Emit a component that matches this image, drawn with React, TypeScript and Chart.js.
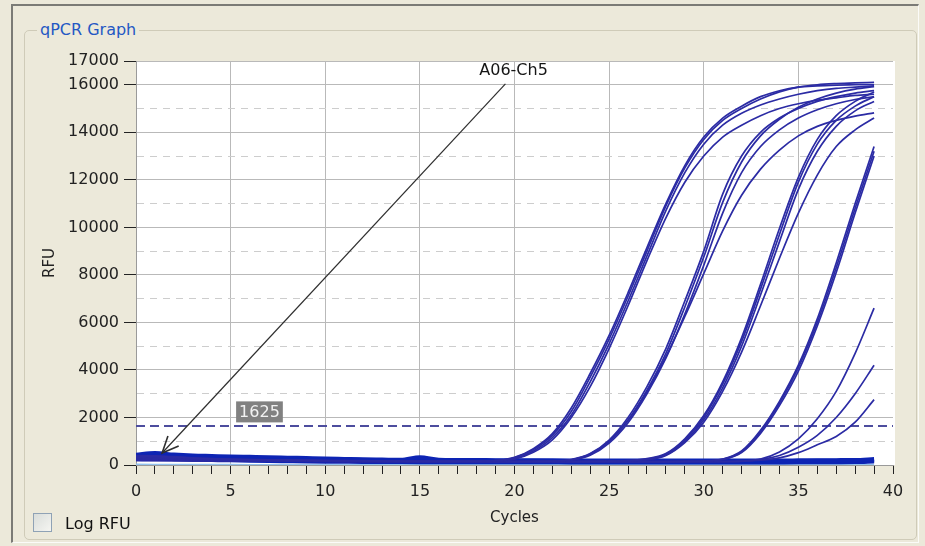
import React, { useEffect, useRef } from 'react';
import { Chart, registerables } from 'chart.js';

Chart.register(...registerables);

// ---------- data ----------
const CYCLES = [0, 1, 2, 3, 4, 5, 6, 7, 8, 9, 10, 11, 12, 13, 14, 15, 16, 17, 18, 19, 20, 21, 22, 23, 24, 25, 26, 27, 28, 29, 30, 31, 32, 33, 34, 35, 36, 37, 38, 39];
const X_TICKS = [0, 1, 2, 3, 4, 5, 6, 7, 8, 9, 10, 11, 12, 13, 14, 15, 16, 17, 18, 19, 20, 21, 22, 23, 24, 25, 26, 27, 28, 29, 30, 31, 32, 33, 34, 35, 36, 37, 38, 39, 40];
const X_LABELED = [0, 5, 10, 15, 20, 25, 30, 35, 40];
const X_GRID = [5, 10, 15, 20, 25, 30, 35];
const Y_TICKS = [0, 1000, 2000, 3000, 4000, 5000, 6000, 7000, 8000, 9000, 10000, 11000, 12000, 13000, 14000, 15000, 16000, 17000];
const Y_LABELED = [0, 2000, 4000, 6000, 8000, 10000, 12000, 14000, 16000, 17000];
const THRESHOLD = 1625;
const THRESH_LABEL_CYCLE = 5.29;
const ANNOT_TEXT = 'A06-Ch5';
const ANNOT_LABEL_AT = [19.95, 16580];
const ANNOT_FROM = [19.52, 16035];
const ANNOT_TIP = [1.38, 505];

// positive wells, dilution group A
const A1 = [380, 360, 330, 290, 260, 240, 225, 215, 205, 195, 185, 180, 175, 170, 165, 160, 160, 160, 165, 180, 300, 650, 1250, 2250, 3700, 5300, 7100, 9000, 10900, 12500, 13700, 14500, 15000, 15400, 15700, 15900, 16000, 16050, 16080, 16100];
const A2 = [350, 340, 310, 280, 250, 230, 215, 205, 195, 190, 180, 175, 170, 165, 160, 158, 155, 155, 160, 175, 270, 590, 1150, 2100, 3500, 5100, 6900, 8800, 10700, 12300, 13500, 14300, 14800, 15150, 15400, 15600, 15750, 15850, 15900, 15950];
const A3 = [320, 310, 290, 260, 235, 215, 205, 195, 185, 180, 175, 170, 165, 160, 158, 155, 150, 150, 155, 165, 250, 540, 1060, 2000, 3300, 4900, 6700, 8600, 10400, 11900, 13000, 13800, 14300, 14700, 15000, 15200, 15350, 15450, 15550, 15600];
const A4 = [400, 390, 350, 300, 270, 245, 230, 220, 210, 200, 190, 185, 180, 175, 170, 165, 165, 165, 170, 185, 320, 690, 1320, 2400, 3850, 5450, 7250, 9150, 11000, 12600, 13800, 14600, 15100, 15500, 15750, 15900, 15950, 15980, 16000, 16020];
// group B
const B1 = [300, 290, 270, 245, 225, 210, 200, 190, 180, 175, 170, 165, 160, 155, 150, 150, 148, 145, 145, 145, 145, 150, 160, 230, 480, 1050, 2000, 3300, 4900, 6900, 9000, 11400, 13000, 14000, 14600, 15000, 15300, 15500, 15650, 15750];
const B2 = [320, 300, 280, 250, 230, 215, 200, 190, 182, 176, 170, 165, 160, 156, 152, 150, 148, 146, 145, 145, 145, 148, 155, 210, 440, 980, 1880, 3150, 4700, 6650, 8750, 11050, 12750, 13850, 14550, 15050, 15400, 15650, 15820, 15920];
const B3 = [280, 270, 255, 235, 220, 205, 195, 185, 178, 172, 166, 160, 156, 152, 150, 148, 146, 144, 143, 143, 143, 145, 150, 200, 410, 920, 1780, 3000, 4500, 6350, 8400, 10600, 12300, 13400, 14100, 14600, 14950, 15200, 15380, 15500];
const B4 = [300, 285, 265, 240, 222, 208, 198, 188, 180, 174, 168, 163, 158, 154, 150, 148, 146, 145, 145, 145, 146, 150, 158, 220, 460, 1000, 1880, 3080, 4550, 6250, 8050, 9850, 11350, 12450, 13250, 13850, 14250, 14500, 14680, 14820];
// group C
const C1 = [260, 250, 235, 220, 205, 195, 188, 180, 175, 170, 165, 160, 156, 152, 150, 148, 146, 145, 144, 143, 142, 142, 143, 145, 150, 160, 180, 250, 450, 1050, 2000, 3400, 5200, 7400, 9700, 11900, 13500, 14500, 15100, 15500];
const C2 = [240, 235, 225, 210, 198, 190, 182, 176, 170, 166, 162, 158, 154, 150, 148, 146, 144, 143, 142, 141, 140, 140, 141, 143, 147, 155, 170, 230, 420, 980, 1900, 3250, 5000, 7150, 9400, 11600, 13200, 14250, 14900, 15300];
const C3 = [250, 240, 228, 214, 200, 190, 183, 176, 170, 165, 160, 156, 152, 149, 147, 145, 143, 142, 141, 140, 140, 140, 141, 143, 146, 152, 165, 220, 400, 940, 1800, 3100, 4750, 6700, 8700, 10600, 12200, 13400, 14100, 14600];
const C4 = [270, 258, 240, 224, 210, 198, 190, 183, 177, 171, 166, 161, 157, 153, 150, 148, 146, 145, 144, 143, 143, 143, 144, 146, 151, 162, 185, 265, 480, 1100, 2080, 3500, 5350, 7600, 9950, 12100, 13700, 14700, 15300, 15700];
// group D
const D1 = [230, 225, 215, 205, 195, 188, 182, 176, 170, 166, 162, 158, 155, 152, 150, 148, 146, 145, 144, 143, 142, 141, 140, 140, 140, 140, 141, 142, 145, 150, 165, 240, 560, 1400, 2600, 4100, 6000, 8300, 10800, 13200];
const D2 = [220, 215, 208, 200, 192, 185, 179, 173, 168, 164, 160, 156, 153, 150, 148, 146, 145, 144, 143, 142, 141, 140, 139, 139, 139, 139, 140, 141, 143, 148, 160, 225, 520, 1330, 2500, 3950, 5850, 8100, 10600, 13000];
const D3 = [240, 232, 222, 210, 200, 192, 185, 179, 173, 168, 164, 160, 157, 154, 151, 149, 147, 146, 145, 144, 143, 142, 141, 141, 141, 141, 142, 143, 147, 152, 170, 250, 590, 1460, 2680, 4200, 6150, 8500, 11000, 13400];
// group E (latest)
const E1 = [210, 205, 198, 190, 183, 177, 172, 167, 163, 160, 157, 154, 152, 150, 148, 146, 145, 144, 143, 142, 141, 140, 140, 140, 140, 140, 140, 140, 141, 142, 143, 148, 165, 250, 550, 1100, 1950, 3100, 4700, 6600];
const E2 = [200, 196, 190, 184, 178, 173, 168, 164, 160, 157, 154, 152, 150, 148, 146, 145, 144, 143, 142, 141, 140, 140, 139, 139, 139, 139, 139, 139, 140, 141, 142, 146, 160, 230, 400, 750, 1250, 2000, 3000, 4200];
const E3 = [190, 186, 181, 176, 171, 167, 163, 160, 157, 154, 152, 150, 148, 146, 145, 144, 143, 142, 141, 140, 139, 139, 138, 138, 138, 138, 138, 138, 139, 140, 141, 144, 155, 200, 300, 520, 850, 1200, 1800, 2750];
// negative wells (baseline band)
const N1 = [430, 500, 440, 400, 380, 360, 345, 330, 310, 290, 270, 255, 240, 230, 220, 330, 225, 215, 210, 205, 200, 198, 196, 194, 192, 190, 190, 190, 190, 190, 190, 190, 190, 190, 190, 195, 200, 205, 210, 250];
const N2 = [400, 420, 390, 360, 340, 320, 300, 285, 270, 255, 240, 225, 215, 205, 198, 192, 188, 184, 180, 178, 176, 174, 172, 170, 170, 170, 170, 170, 170, 170, 170, 170, 170, 170, 170, 172, 175, 178, 182, 210];
const N3 = [320, 340, 320, 300, 280, 260, 245, 230, 215, 200, 190, 180, 172, 166, 160, 156, 152, 150, 148, 146, 145, 144, 143, 142, 141, 140, 140, 140, 140, 140, 140, 140, 140, 140, 140, 142, 145, 148, 152, 180];
const N4 = [240, 250, 240, 225, 210, 195, 182, 170, 160, 150, 142, 136, 130, 126, 122, 120, 118, 116, 115, 114, 113, 112, 111, 110, 110, 110, 110, 110, 110, 110, 110, 110, 110, 110, 110, 112, 115, 118, 122, 150];
const LB = [20, 15, 10, 10, 8, 6, 5, 5, 5, 5, 5, 5, 5, 5, 5, 5, 5, 5, 5, 5, 5, 5, 5, 5, 5, 5, 5, 5, 5, 5, 5, 5, 5, 5, 5, 5, 5, 5, 5, 5];

const POSITIVE = [A1, A2, A3, A4, B1, B2, B3, B4, C1, C2, C3, C4, D1, D2, D3, E1, E2, E3];
const NEGATIVE = [N1, N2, N3, N4];

// ---------- styles ----------
const BG = '#ECE9DA';
const FONT = '"DejaVu Sans", Verdana, sans-serif';
const CURVE_COLOR = '#2b2ba4';
const NEG_COLOR = '#0d24b4';
const LB_COLOR = '#92c2ee';
const GRID = '#b9b9b9';
const MINOR = '#cdcdcd';
const THRESH_COLOR = '#4d4d9e';

const toXY = (s: number[]) => CYCLES.map((c, i) => ({ x: c, y: s[i] }));

const overlayPlugin = {
  id: 'qpcrOverlay',
  beforeDraw(chart: any) {
    const { ctx, chartArea: a } = chart;
    ctx.save();
    ctx.fillStyle = '#ffffff';
    ctx.fillRect(a.left, a.top, a.right - a.left + 2, a.bottom - a.top);
    ctx.restore();
  },
  beforeDatasetsDraw(chart: any) {
    const { ctx, chartArea: a, scales } = chart;
    const y = Math.round(scales.y.getPixelForValue(THRESHOLD));
    ctx.save();
    ctx.strokeStyle = THRESH_COLOR;
    ctx.lineWidth = 2;
    ctx.setLineDash([9, 5]);
    ctx.beginPath();
    ctx.moveTo(a.left, y);
    ctx.lineTo(a.right, y);
    ctx.stroke();
    ctx.restore();
  },
  afterDatasetsDraw(chart: any) {
    const { ctx, scales } = chart;
    const xs = scales.x;
    const ys = scales.y;
    ctx.save();
    // threshold label
    const yT = ys.getPixelForValue(THRESHOLD);
    ctx.font = '16px ' + FONT;
    const text = String(THRESHOLD);
    const tw = ctx.measureText(text).width;
    const bw = tw + 6;
    const bh = 21;
    const bx = xs.getPixelForValue(THRESH_LABEL_CYCLE);
    const by = yT - 4 - bh;
    ctx.fillStyle = '#818181';
    ctx.fillRect(bx, by, bw, bh);
    ctx.fillStyle = '#f2f2f2';
    ctx.textAlign = 'center';
    ctx.textBaseline = 'middle';
    ctx.fillText(text, bx + bw / 2, by + bh / 2 + 1);

    // annotation arrow
    const x1 = xs.getPixelForValue(ANNOT_FROM[0]);
    const y1 = ys.getPixelForValue(ANNOT_FROM[1]);
    const x2 = xs.getPixelForValue(ANNOT_TIP[0]);
    const y2 = ys.getPixelForValue(ANNOT_TIP[1]);
    ctx.strokeStyle = '#2e2e2e';
    ctx.lineWidth = 1.2;
    ctx.beginPath();
    ctx.moveTo(x1, y1);
    ctx.lineTo(x2, y2);
    ctx.stroke();
    const ang = Math.atan2(y1 - y2, x1 - x2);
    const len = 18;
    const spread = 0.42;
    ctx.beginPath();
    ctx.moveTo(x2 + len * Math.cos(ang - spread), y2 + len * Math.sin(ang - spread));
    ctx.lineTo(x2, y2);
    ctx.lineTo(x2 + len * Math.cos(ang + spread), y2 + len * Math.sin(ang + spread));
    ctx.lineWidth = 1.6;
    ctx.stroke();

    ctx.fillStyle = '#151515';
    ctx.font = '16px ' + FONT;
    ctx.fillText(ANNOT_TEXT, xs.getPixelForValue(ANNOT_LABEL_AT[0]), ys.getPixelForValue(ANNOT_LABEL_AT[1]));
    ctx.restore();
  },
};

export default function App() {
  const ref = useRef<HTMLCanvasElement>(null);

  useEffect(() => {
    const canvas = ref.current;
    if (!canvas) return;
    const datasets: any[] = [
      ...POSITIVE.map((s) => ({
        data: toXY(s),
        borderColor: CURVE_COLOR,
        borderWidth: 1.7,
        pointRadius: 0,
        fill: false,
        cubicInterpolationMode: 'monotone',
      })),
      ...NEGATIVE.map((s) => ({
        data: toXY(s),
        borderColor: NEG_COLOR,
        borderWidth: 4,
        pointRadius: 0,
        fill: false,
        cubicInterpolationMode: 'monotone',
      })),
      {
        data: toXY(LB),
        borderColor: LB_COLOR,
        borderWidth: 2,
        pointRadius: 0,
        fill: false,
      },
    ];

    const chart = new Chart(canvas, {
      type: 'line',
      data: { datasets },
      plugins: [overlayPlugin],
      options: {
        responsive: false,
        animation: false,
        events: [],
        layout: { padding: { left: 30, top: 61, right: 32, bottom: 15 } },
        plugins: { legend: { display: false }, tooltip: { enabled: false } },
        scales: {
          x: {
            type: 'linear',
            min: 0,
            max: 40,
            afterBuildTicks: (s: any) => {
              s.ticks = X_TICKS.map((v) => ({ value: v }));
            },
            afterFit: (s: any) => {
              s.height = 66;
            },
            ticks: {
              autoSkip: false,
              maxRotation: 0,
              minRotation: 0,
              padding: 8,
              color: '#222',
              font: { family: FONT, size: 16 },
              callback: (v: any) => (X_LABELED.includes(Number(v)) ? String(v) : ''),
            },
            grid: {
              color: (c: any) => (c.tick && X_GRID.includes(c.tick.value) ? GRID : 'rgba(0,0,0,0)'),
              tickColor: '#222',
              tickLength: 9,
              tickWidth: 1,
              lineWidth: 1,
            },
            border: { display: true, color: '#9a9a9a' },
            title: {
              display: true,
              text: 'Cycles',
              color: '#222',
              font: { family: FONT, size: 15 },
              padding: { top: 4, bottom: 4 },
            },
          },
          y: {
            type: 'linear',
            min: 0,
            max: 17000,
            afterBuildTicks: (s: any) => {
              s.ticks = Y_TICKS.map((v) => ({ value: v }));
            },
            afterFit: (s: any) => {
              s.width = 106;
            },
            ticks: {
              autoSkip: false,
              padding: 5,
              color: '#222',
              font: { family: FONT, size: 16 },
              callback: (v: any) => (Y_LABELED.includes(Number(v)) ? String(v) : ''),
            },
            grid: {
              color: (c: any) => (!c.tick || Y_LABELED.includes(c.tick.value) ? GRID : MINOR),
              tickColor: (c: any) => (c.tick && Y_LABELED.includes(c.tick.value) ? '#222' : 'rgba(0,0,0,0)'),
              tickLength: 12,
              lineWidth: 1,
            },
            border: {
              display: true,
              color: '#9a9a9a',
              dash: (c: any) => (c.tick && !Y_LABELED.includes(c.tick.value) ? [7, 6] : []),
            },
            title: {
              display: true,
              text: 'RFU',
              color: '#222',
              font: { family: FONT, size: 15 },
              padding: { top: 11, bottom: 4 },
            },
          },
        },
      } as any,
    });
    return () => chart.destroy();
  }, []);

  return (
    <div
      style={{
        position: 'fixed',
        left: 0,
        top: 0,
        width: 925,
        height: 546,
        background: BG,
        overflow: 'hidden',
        fontFamily: FONT,
      }}
    >
      <div
        style={{
          position: 'absolute',
          left: 11,
          top: 4,
          width: 925 - 11 - 6,
          height: 546 - 4 - 3,
          borderTop: '2px solid #7b7b76',
          borderLeft: '2px solid #7b7b76',
          borderRight: '1px solid #fbfbf8',
          borderBottom: '1px solid #fbfbf8',
          boxSizing: 'border-box',
        }}
      />
      <div
        style={{
          position: 'absolute',
          left: 24,
          top: 30,
          width: 893,
          height: 510,
          border: '1px solid #cfcbb8',
          borderRadius: 5,
          boxSizing: 'border-box',
        }}
      />
      <div
        style={{
          position: 'absolute',
          left: 37,
          top: 20,
          padding: '0 3px',
          background: BG,
          color: '#2458c4',
          fontSize: 16,
          lineHeight: '20px',
          whiteSpace: 'nowrap',
        }}
      >
        qPCR Graph
      </div>
      <canvas
        ref={ref}
        width={925}
        height={546}
        style={{ position: 'absolute', left: 0, top: 0, width: 925, height: 546 }}
      />
      <div
        style={{
          position: 'absolute',
          left: 33,
          top: 513,
          width: 19,
          height: 19,
          border: '1px solid #8fa2b5',
          background: 'linear-gradient(135deg, #d9ddda, #f5f5f1)',
          boxSizing: 'border-box',
        }}
      />
      <div
        style={{
          position: 'absolute',
          left: 65,
          top: 514,
          fontSize: 16,
          lineHeight: '20px',
          color: '#111',
          whiteSpace: 'nowrap',
        }}
      >
        Log RFU
      </div>
    </div>
  );
}
